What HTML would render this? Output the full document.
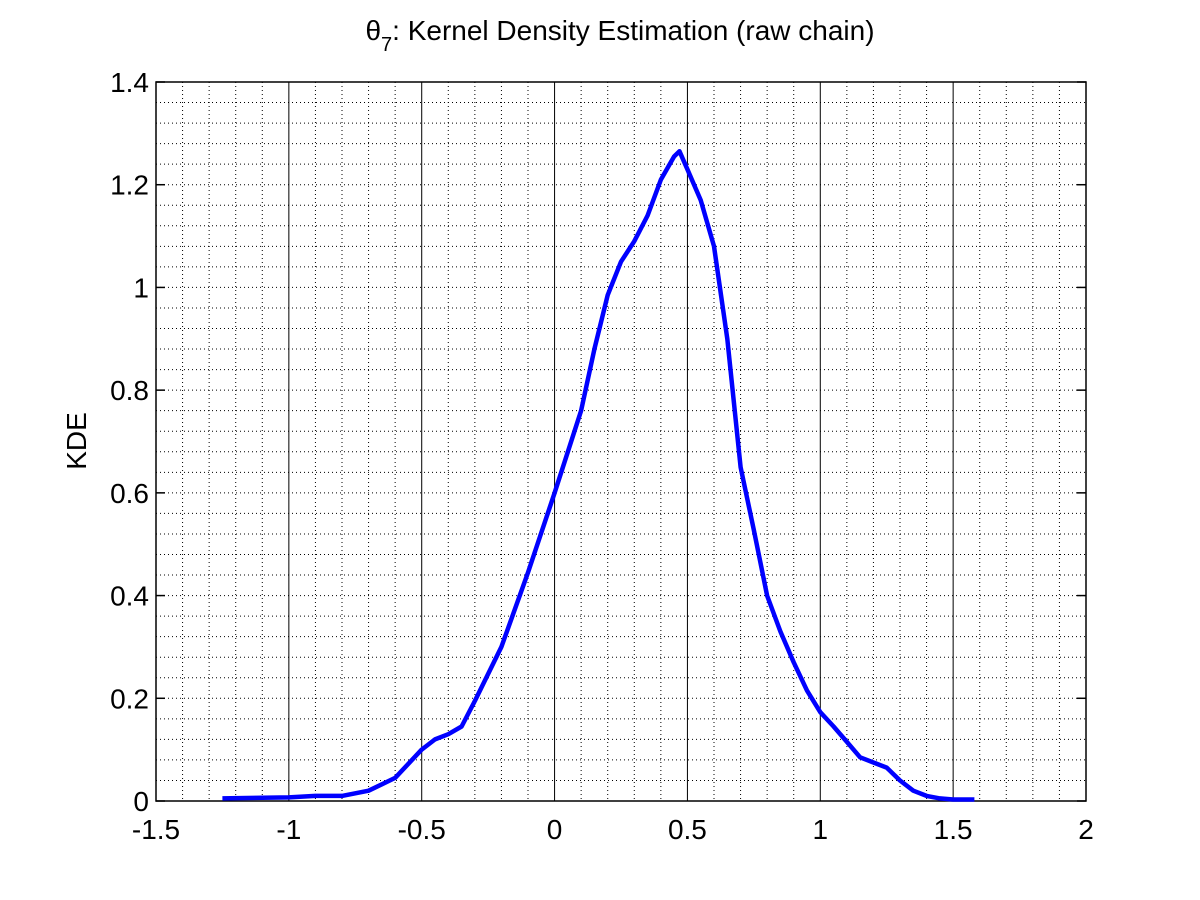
<!DOCTYPE html>
<html><head><meta charset="utf-8"><style>
html,body{margin:0;padding:0;background:#fff;}
svg{display:block;font-family:"Liberation Sans",sans-serif;}
</style></head><body>
<svg id="chart" width="1200" height="900">
<rect width="1200" height="900" fill="#fff"/>
<g id="grid"></g>
<g id="axes"></g>
<path id="line" fill="none" stroke="#0000ff" stroke-width="4.5" stroke-linejoin="round"/>
<text x="620" y="40" font-size="28" text-anchor="middle">θ<tspan font-size="20" dy="11">7</tspan><tspan dy="-11">: Kernel Density Estimation (raw chain)</tspan></text>
<text transform="translate(86,441) rotate(-90)" font-size="28" text-anchor="middle">KDE</text>
</svg>
<script>
const xVals=[-1.25,-1.0,-0.9,-0.8,-0.7,-0.6,-0.5,-0.45,-0.4,-0.35,-0.3,-0.2,-0.1,0,0.1,0.15,0.2,0.25,0.3,0.35,0.4,0.45,0.47,0.5,0.55,0.6,0.65,0.7,0.75,0.8,0.85,0.9,0.95,1.0,1.05,1.1,1.15,1.2,1.25,1.3,1.35,1.4,1.45,1.5,1.58];
const yVals=[0.005,0.007,0.01,0.01,0.02,0.045,0.1,0.12,0.13,0.145,0.195,0.3,0.445,0.6,0.76,0.88,0.985,1.05,1.09,1.14,1.21,1.255,1.265,1.23,1.17,1.08,0.9,0.65,0.527,0.4,0.33,0.27,0.215,0.173,0.145,0.115,0.085,0.075,0.065,0.04,0.02,0.01,0.005,0.003,0.003];
const xTicks=[-1.5,-1,-0.5,0,0.5,1,1.5,2];
const yTicks=[0,0.2,0.4,0.6,0.8,1,1.2,1.4];
const L=156,R=1086,T=82,B=801;
const sx=v=>L+(v+1.5)/3.5*(R-L);
const sy=v=>B-v/1.4*(B-T);
const NS="http://www.w3.org/2000/svg";
function mk(parent,tag,attrs){const e=document.createElementNS(NS,tag);for(const k in attrs)e.setAttribute(k,attrs[k]);parent.appendChild(e);return e;}
const grid=document.getElementById('grid'),axes=document.getElementById('axes');
for(let i=1;i<35;i++){const v=-1.5+i*0.1;if(i%5===0)continue;const x=sx(v);
 const l=mk(grid,'line',{x1:x,x2:x,y1:T,y2:B,stroke:'#000','stroke-width':1,'stroke-dasharray':'1,3'});
 
 }
for(let i=1;i<35;i++){const y=sy(i*0.04);
 const l=mk(grid,'line',{x1:L,x2:R,y1:y,y2:y,stroke:'#000','stroke-width':1,'stroke-dasharray':'1,3'});
 
 }
xTicks.forEach(v=>{const x=sx(v);
 const l=mk(grid,'line',{x1:x,x2:x,y1:T,y2:B,stroke:'#000','stroke-width':1});
 
 
 const t=mk(axes,'text',{x:x,y:B+38,'font-size':28,'text-anchor':'middle'});t.textContent=(v===0?'0':String(v));
 
 });
yTicks.forEach(v=>{const y=sy(v);
 mk(axes,'line',{x1:L,x2:L+9,y1:y,y2:y,stroke:'#000','stroke-width':1.5});
 mk(axes,'line',{x1:R-9,x2:R,y1:y,y2:y,stroke:'#000','stroke-width':1.5});
 const t=mk(axes,'text',{x:L-7,y:y+10,'font-size':28,'text-anchor':'end'});t.textContent=String(v);
 
 });
const box=mk(axes,'rect',{x:L,y:T,width:R-L,height:B-T,fill:'none',stroke:'#000','stroke-width':1.5});


document.getElementById('line').setAttribute('d',xVals.map((v,i)=>(i?'L':'M')+sx(v).toFixed(1)+','+sy(yVals[i]).toFixed(1)).join(''));
</script>
</body></html>
